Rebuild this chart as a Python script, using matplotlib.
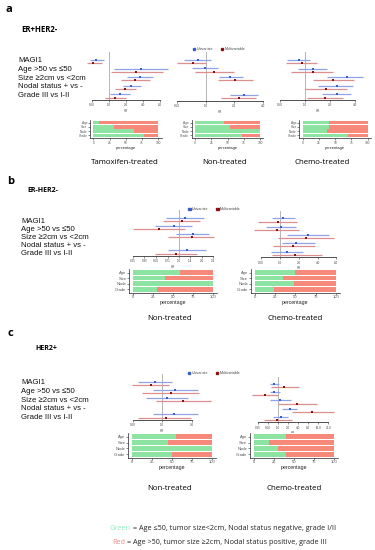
import numpy as np
import matplotlib
matplotlib.use("Agg")
import matplotlib.pyplot as plt

W, H = 375, 550
nan = np.nan

ROW_LABELS = ["MAGI1", "Age >50 vs \u226450", "Size \u22652cm vs <2cm",
              "Nodal status + vs -", "Grade III vs I-II"]
BAR_LABELS = ["Age", "Size", "Node", "Grade"]
PCT_TICKS = [0, 25, 50, 75, 100]

# ---- Panel a: ER+HER2- ----
# a1 Tamoxifen-treated
a1_ticks = [0.5, 1.0, 2.0, 4.0, 8.0]
a1_uni = [0.59, 3.7, 3.47, 2.46, 1.53]
a1_uni_lo = [0.45, 1.21, 2.09, 1.75, 1.01]
a1_uni_hi = [0.80, 11.1, 6.0, 3.7, 2.3]
a1_mv = [0.51, 3.0, 2.83, 1.93, 1.28]
a1_mv_lo = [0.41, 1.06, 1.64, 1.28, 0.83]
a1_mv_hi = [0.74, 9.0, 5.2, 3.0, 2.0]
a1_green = [9, 32, 62, 78]
# a2 Non-treated
a2_ticks = [0.5, 1.0, 2.0, 4.0]
a2_uni = [0.83, 0.98, 1.83, nan, 2.53]
a2_uni_lo = [0.59, 0.72, 1.40, nan, 1.79]
a2_uni_hi = [1.15, 1.35, 2.47, nan, 3.60]
a2_mv = [0.74, 1.22, 2.02, nan, 2.24]
a2_mv_lo = [0.50, 0.77, 1.35, nan, 1.44]
a2_mv_hi = [1.02, 1.98, 3.14, nan, 3.40]
a2_green = [45, 54, 100, 72]
# a3 Chemo-treated
a3_ticks = [0.5, 1.0, 2.0, 4.0]
a3_uni = [0.85, 1.25, 3.17, 2.41, 2.41]
a3_uni_lo = [0.61, 0.82, 1.86, 1.43, 1.62]
a3_uni_hi = [1.15, 1.82, 5.04, 3.82, 3.61]
a3_mv = [0.91, 1.24, 2.19, 1.77, 1.72]
a3_mv_lo = [0.59, 0.68, 1.26, 0.99, 1.07]
a3_mv_hi = [1.41, 2.19, 3.89, 3.23, 2.90]
a3_green = [41, 40, 37, 69]

# ---- Panel b: ER-HER2- ----
b1_ticks = [0.25, 0.35, 0.50, 0.71, 1.0, 1.41, 2.0, 2.83]
b1_uni = [1.20, 0.86, 1.55, nan, 1.29]
b1_uni_lo = [0.68, 0.49, 0.90, nan, 0.72]
b1_uni_hi = [2.14, 1.47, 2.49, nan, 2.25]
b1_mv = [1.08, 0.54, 1.47, nan, 0.90]
b1_mv_lo = [0.61, 0.25, 0.72, nan, 0.48]
b1_mv_hi = [1.88, 1.20, 2.90, nan, 1.75]
b1_green = [58, 40, 100, 30]
b2_ticks = [0.5, 1.0, 2.0, 4.0, 8.0]
b2_uni = [1.13, 1.03, 2.76, 1.81, 1.31]
b2_uni_lo = [0.73, 0.59, 1.28, 1.06, 0.71]
b2_uni_hi = [1.75, 1.81, 6.0, 3.67, 2.32]
b2_mv = [0.92, 0.88, 2.62, 1.64, 1.75]
b2_mv_lo = [0.45, 0.38, 0.94, 0.78, 0.73]
b2_mv_hi = [1.86, 1.98, 7.4, 3.67, 4.7]
b2_green = [50, 35, 48, 23]

# ---- Panel c: HER2+ ----
c1_ticks = [0.5, 1.0, 2.0]
c1_uni = [0.85, 1.34, 1.12, nan, 1.31]
c1_uni_lo = [0.56, 0.80, 0.69, nan, 0.80]
c1_uni_hi = [1.26, 2.35, 1.84, nan, 2.35]
c1_mv = [0.77, 1.24, 1.64, nan, 1.10]
c1_mv_lo = [0.49, 0.62, 0.87, nan, 0.56]
c1_mv_hi = [1.18, 2.40, 3.18, nan, 1.98]
c1_green = [55, 45, 100, 50]
c2_ticks = [0.25, 0.5, 1.0, 2.0, 4.0, 8.0, 16.0, 32.0]
c2_uni = [0.74, 0.74, 1.10, 2.19, 1.18]
c2_uni_lo = [0.55, 0.55, 0.55, 1.32, 0.69]
c2_uni_hi = [1.05, 1.10, 2.35, 3.73, 2.0]
c2_mv = [1.48, 0.40, 3.56, 10.6, 0.93]
c2_mv_lo = [0.59, 0.16, 1.0, 2.52, 0.37]
c2_mv_hi = [4.19, 1.0, 14.9, 47.0, 2.52]
c2_green = [40, 19, 30, 40]

GREEN = "#8de4a2"
RED = "#f7897a"
BLUE_PT = "#3a5fcd"
BLUE_LN = "#8fa3e6"
RED_PT = "#8b1010"
RED_LN = "#dc8f8f"

SANS = ["Liberation Sans", "DejaVu Sans"]
OPEN = ["Open Sans", "DejaVu Sans"]

fig = plt.figure(figsize=(W / 100, H / 100), dpi=100)


def add_ax(x0, y0, x1, y1):
    return fig.add_axes([x0 / W, 1 - y1 / H, (x1 - x0) / W, (y1 - y0) / H])


def ptxt(x, y, s, **kw):
    fig.text(x / W, 1 - y / H, s, **kw)


def tick_label(v):
    return "%.2f" % v if v < 1 else "%.1f" % v


def forest(x0, x1, yb0, s, ya, ticks, uni, ulo, uhi, mv, mlo, mhi):
    ax = add_ax(x0, yb0 - 0.9 * s, x1, ya)
    ax.set_xscale("log")
    ax.set_xlim(ticks[0], ticks[-1])
    ax.set_ylim((ya - yb0) / s, -0.9)
    off = 3.2 / s
    ax.axvline(1.0, color="#b5b5b5", lw=0.7, zorder=0)
    for i in range(len(uni)):
        if not np.isnan(uni[i]):
            ax.plot([ulo[i], uhi[i]], [i, i], color=BLUE_LN, lw=0.9,
                    clip_on=False, solid_capstyle="butt", zorder=2)
            ax.plot([uni[i]], [i], "s", ms=1.6, color=BLUE_PT, mew=0,
                    clip_on=False, zorder=3)
        if not np.isnan(mv[i]):
            ax.plot([mlo[i], mhi[i]], [i + off, i + off], color=RED_LN, lw=0.9,
                    clip_on=False, solid_capstyle="butt", zorder=2)
            ax.plot([mv[i]], [i + off], "s", ms=1.6, color=RED_PT, mew=0,
                    clip_on=False, zorder=3)
    for sp in ["top", "right", "left"]:
        ax.spines[sp].set_visible(False)
    ax.spines["bottom"].set_linewidth(0.6)
    ax.spines["bottom"].set_color("#333333")
    ax.minorticks_off()
    ax.set_xticks(ticks)
    ax.set_xticklabels([tick_label(t) for t in ticks], fontsize=2.2,
                       family=SANS, color="#444444")
    ax.set_yticks([])
    ax.tick_params(axis="x", length=1.5, width=0.4, pad=1, color="#333333")
    ax.set_xlabel("HR", fontsize=2.2, labelpad=1, family=SANS, color="#444444")
    ax.patch.set_alpha(0)
    return ax


def bars(x0, x100, ytop, ybot, greens, fs):
    d = 0.05 * (x100 - x0)
    # bar region spans 3.9 units of the 4.2 unit axis
    hpx = (ybot - ytop) / 3.9
    ax = add_ax(x0 - d, ytop - 0.15 * hpx, x100 + d, ybot + 0.15 * hpx)
    g = np.array(greens, dtype=float)
    y = np.arange(len(g))
    ax.barh(y, g, height=0.86, color=GREEN, lw=0)
    ax.barh(y, 100 - g, left=g, height=0.86, color=RED, lw=0)
    ax.set_xlim(-5, 105)
    ax.set_ylim(3.6, -0.6)
    ax.set_xticks(PCT_TICKS)
    ax.set_xticklabels([str(t) for t in PCT_TICKS], fontsize=fs, family=SANS, color="#555555")
    ax.set_yticks(y)
    ax.set_yticklabels(BAR_LABELS, fontsize=fs, family=SANS, color="#555555")
    for sp in ["top", "right"]:
        ax.spines[sp].set_visible(False)
    for sp in ["left", "bottom"]:
        ax.spines[sp].set_linewidth(0.5)
        ax.spines[sp].set_color("#222222")
    ax.tick_params(length=1.2, width=0.4, pad=0.8, color="#333333")
    ax.set_xlabel("percentage", fontsize=fs * 1.25, labelpad=0.8, family=SANS, color="#222222")
    return ax


def legend(xb, y, fs=2.6):
    sq = 2.6
    a = fig.add_axes([0, 0, 1, 1], facecolor="none")
    a.set_xlim(0, W); a.set_ylim(H, 0); a.axis("off")
    a.add_patch(plt.Rectangle((xb - sq / 2, y - sq / 2), sq, sq, color=BLUE_PT))
    a.text(xb + 2.5, y, "Univariate", fontsize=fs, va="center", family=SANS, color="#444444")
    a.add_patch(plt.Rectangle((xb + 28 - sq / 2, y - sq / 2), sq, sq, color=RED_PT))
    a.text(xb + 30.5, y, "Multivariable", fontsize=fs, va="center", family=SANS, color="#444444")


def row_labels(x, y0, dy):
    for i, lab in enumerate(ROW_LABELS):
        ptxt(x, y0 + i * dy, lab, fontsize=5.6, family=SANS, va="center", color="#111111")


# ---------- Panel a ----------
ptxt(6, 10, "a", fontsize=8, fontweight="bold", family=OPEN, va="center")
ptxt(21, 29, "ER+HER2-", fontsize=5.6, fontweight="bold", family=OPEN, va="center")
legend(194, 49)
row_labels(18, 61, 8.6)
forest(92.3, 160.3, 60, 8.6, 100, a1_ticks, a1_uni, a1_uni_lo, a1_uni_hi, a1_mv, a1_mv_lo, a1_mv_hi)
forest(177, 262.7, 59.5, 8.8, 101, a2_ticks, a2_uni, a2_uni_lo, a2_uni_hi, a2_mv, a2_mv_lo, a2_mv_hi)
forest(280, 355, 60, 8.6, 100, a3_ticks, a3_uni, a3_uni_lo, a3_uni_hi, a3_mv, a3_mv_lo, a3_mv_hi)
bars(93.3, 158.3, 120.7, 137.3, a1_green, 2.3)
bars(195, 260, 120.7, 137.3, a2_green, 2.3)
bars(302.7, 367.7, 120.7, 137.3, a3_green, 2.3)
ptxt(125, 163, "Tamoxifen-treated", fontsize=5.7, family=OPEN, ha="center", va="center")
ptxt(225, 163, "Non-treated", fontsize=5.7, family=OPEN, ha="center", va="center")
ptxt(322, 163, "Chemo-treated", fontsize=5.7, family=OPEN, ha="center", va="center")

# ---------- Panel b ----------
ptxt(7, 181, "b", fontsize=8, fontweight="bold", family=OPEN, va="center")
ptxt(27, 190, "ER-HER2-", fontsize=5.0, fontweight="bold", family=OPEN, va="center")
legend(189.5, 209)
row_labels(21, 222, 7.8)
forest(133.3, 213.3, 217.5, 8.2, 256, b1_ticks, b1_uni, b1_uni_lo, b1_uni_hi, b1_mv, b1_mv_lo, b1_mv_hi)
forest(261.3, 336.3, 218.3, 8.3, 257.3, b2_ticks, b2_uni, b2_uni_lo, b2_uni_hi, b2_mv, b2_mv_lo, b2_mv_hi)
bars(133.3, 213.3, 270, 291.7, b1_green, 3.0)
bars(255, 335.7, 270, 291.7, b2_green, 3.0)
ptxt(170, 319, "Non-treated", fontsize=5.7, family=OPEN, ha="center", va="center")
ptxt(295, 319, "Chemo-treated", fontsize=5.7, family=OPEN, ha="center", va="center")

# ---------- Panel c ----------
ptxt(8, 333, "c", fontsize=8, fontweight="bold", family=OPEN, va="center")
ptxt(35, 349, "HER2+", fontsize=5.0, fontweight="bold", family=OPEN, va="center")
legend(189, 373)
row_labels(21, 383, 8.6)
forest(132.7, 191.5, 381.7, 8.15, 420, c1_ticks, c1_uni, c1_uni_lo, c1_uni_hi, c1_mv, c1_mv_lo, c1_mv_hi)
forest(258.3, 328.3, 384, 8.2, 422.3, c2_ticks, c2_uni, c2_uni_lo, c2_uni_hi, c2_mv, c2_mv_lo, c2_mv_hi)
bars(132.3, 212.3, 434.3, 456.7, c1_green, 3.0)
bars(254, 334, 434.3, 456.7, c2_green, 3.0)
ptxt(170, 489, "Non-treated", fontsize=5.7, family=OPEN, ha="center", va="center")
ptxt(294, 489, "Chemo-treated", fontsize=5.7, family=OPEN, ha="center", va="center")

# ---------- Colour key ----------
ptxt(131, 528, "Green", fontsize=5.2, family=OPEN, ha="right", va="center", color="#8ff0c4")
ptxt(133, 528, "= Age \u226450, tumor size<2cm, Nodal status negative, grade I/II",
     fontsize=5.2, family=OPEN, ha="left", va="center", color="#222222")
ptxt(125, 542, "Red", fontsize=5.2, family=OPEN, ha="right", va="center", color="#f48a8a")
ptxt(127, 542, "= Age >50, tumor size \u22652cm, Nodal status positive, grade III",
     fontsize=5.2, family=OPEN, ha="left", va="center", color="#222222")

fig.savefig("out.png", dpi=100)
